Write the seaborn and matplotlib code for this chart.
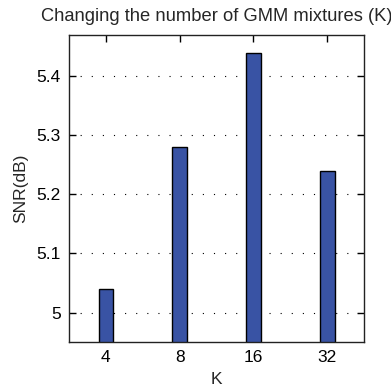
import pandas as pd
import matplotlib
matplotlib.use('Agg')
import matplotlib.pyplot as plt
import seaborn as sns

# Data
k_labels = ['4', '8', '16', '32']
snr_values = [5.04, 5.28, 5.44, 5.24]
y_ticks = [5.0, 5.1, 5.2, 5.3, 5.4]
y_tick_labels = ['5', '5.1', '5.2', '5.3', '5.4']

df = pd.DataFrame({'K': k_labels, 'SNR': snr_values})

sns.set_style('ticks')
plt.rcParams['font.family'] = ['Liberation Sans', 'DejaVu Sans']

fig = plt.figure(figsize=(3.91, 3.90), dpi=100)
ax = fig.add_axes([0.1765, 0.123, 0.7545, 0.787])

sns.barplot(data=df, x='K', y='SNR', order=k_labels, color='#3953A4',
            saturation=1, width=0.2, edgecolor='black', linewidth=1.0, ax=ax)

ax.set_xlim(-0.5, 3.5)
ax.set_ylim(4.95, 5.47)
ax.set_yticks(y_ticks)
ax.set_yticklabels(y_tick_labels)

ax.grid(axis='y', color='black', linestyle=(0, (1, 9)), linewidth=0.8)
ax.set_axisbelow(True)

ax.xaxis.set_ticks_position('both')
ax.yaxis.set_ticks_position('both')
ax.tick_params(direction='in', length=5, width=1.0, labelsize=12.5,
               colors='black', pad=6)
for s in ax.spines.values():
    s.set_visible(True)
    s.set_color('#222222')
    s.set_linewidth(1.0)

ax.set_xlabel('K', fontsize=12.5, labelpad=5)
ax.set_ylabel('SNR(dB)', fontsize=12.5, labelpad=6)
ax.set_title('Changing the number of GMM mixtures (K)', fontsize=13.2, pad=10)

fig.savefig('out.png', dpi=100)
